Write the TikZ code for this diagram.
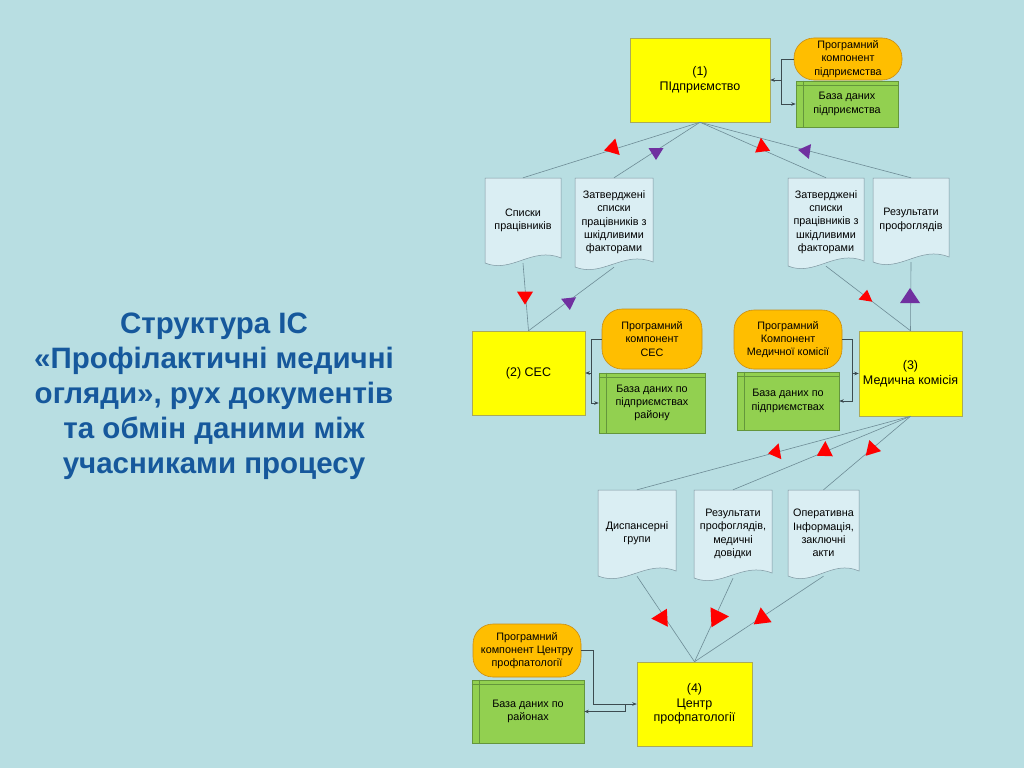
\documentclass[tikz,border=0pt]{standalone}
\usepackage{fontspec}
\setmainfont{Liberation Sans}
\usetikzlibrary{calc,arrows.meta}
\pgfdeclarelayer{background}
\pgfsetlayers{background,main}
\definecolor{bgc}{RGB}{184,222,226}
\definecolor{titlec}{RGB}{22,88,156}
\definecolor{yel}{RGB}{255,255,0}
\definecolor{yelb}{RGB}{170,170,90}
\definecolor{org}{RGB}{255,190,0}
\definecolor{orgb}{RGB}{200,140,20}
\definecolor{grn}{RGB}{146,208,80}
\definecolor{grnb}{RGB}{100,150,60}
\definecolor{docc}{RGB}{218,238,243}
\definecolor{docb}{RGB}{125,150,160}
\definecolor{linec}{RGB}{110,140,150}
\definecolor{darkc}{RGB}{60,75,80}
\definecolor{purp}{RGB}{112,48,160}
\definecolor{redc}{RGB}{255,0,0}
\tikzset{
  box/.style={draw=yelb, fill=yel, line width=0.5pt, inner sep=0pt, align=center,
    font=\fontsize{12.5}{14.7}\selectfont},
  prog/.style={draw=orgb, fill=org, rounded corners=20pt, line width=0.6pt, inner sep=0pt,
    align=center, font=\fontsize{10.8}{13.2}\selectfont},
  db/.style={draw=grnb, fill=grn, line width=0.6pt, inner sep=0pt, align=center,
    font=\fontsize{10.8}{13.2}\selectfont},
  docnode/.style={inner sep=0pt, align=center, font=\fontsize{10.8}{13.3}\selectfont},
  docfill/.style={fill=docc, draw=docb, line width=0.5pt},
  flow/.style={draw=linec, line width=0.6pt},
  conn/.style={draw=darkc, line width=0.5pt, -{Stealth[length=4.5pt,width=3.5pt]}},
  title/.style={align=center, text=titlec, font=\fontsize{29.5}{35}\selectfont\bfseries},
}
\newcommand\docbox[6]{%
  \node[docnode, minimum width={#4-#2}, minimum height={#5-#3}] (#1) at ({(#2+#4)/2},{(#3+#5)/2}) {#6};
  \begin{pgfonlayer}{background}
    \filldraw[docfill] (#2,#3) -- (#4,#3) -- (#4,{#5-5})
      .. controls ({#2+0.62*(#4-#2)},{#5-17}) and ({#2+0.35*(#4-#2)},{#5+11}) .. (#2,#5) -- cycle;
  \end{pgfonlayer}}
\newcommand\dblines[1]{%
  \draw[grnb, line width=0.5pt] ([xshift=8pt]#1.north west) -- ([xshift=8pt]#1.south west);
  \draw[grnb, line width=0.5pt] ([yshift=-5pt]#1.north west) -- ([yshift=-5pt]#1.north east);}
\newcommand\flowtri[6]{%
  \fill[#4] ($(#1,#2)+(#3:{2*#6/3})$) -- ($(#1,#2)+({#3+180}:{#6/3})+({#3+90}:{#5/2})$)
    -- ($(#1,#2)+({#3+180}:{#6/3})+({#3-90}:{#5/2})$) -- cycle;}
\begin{document}
\begin{tikzpicture}[x=1pt,y=-1pt]
\useasboundingbox (0,0) rectangle (1024,768);
\begin{pgfonlayer}{background}
  \fill[bgc] (0,0) rectangle (1024,768);
\end{pgfonlayer}

% title
\node[title] (T) at (214,396) {Структура ІС\\«Профілактичні медичні\\огляди», рух документів\\та обмін даними між\\учасниками процесу};

% main boxes
\node[box, minimum width=140pt, minimum height=84pt] (B1) at (700,80) {(1)\\ПІдприємство};
\node[box, minimum width=113pt, minimum height=84pt] (B2) at (528.5,373) {(2) СЕС};
\node[box, minimum width=103pt, minimum height=85pt] (B3) at (910.5,373.5) {(3)\\Медична комісія};
\node[box, minimum width=115pt, minimum height=84pt] (B4) at (694.5,704) {(4)\\Центр\\профпатології};

% program components
\node[prog, minimum width=108pt, minimum height=42pt] (P1) at (848,59) {Програмний\\компонент\\підприємства};
\node[prog, minimum width=100pt, minimum height=60pt] (P2) at (652,339) {Програмний\\компонент\\СЕС};
\node[prog, minimum width=108pt, minimum height=59pt] (P3) at (788,339.5) {Програмний\\Компонент\\Медичної комісії};
\node[prog, minimum width=108pt, minimum height=53pt] (P4) at (527,650.5) {Програмний\\компонент Центру\\профпатології};

% databases
\node[db, minimum width=102pt, minimum height=46pt] (DB1) at (847,104) {База даних\\підприємства};
\node[db, minimum width=106pt, minimum height=60pt] (DB2) at (652,403) {База даних по\\підприємствах\\району};
\node[db, minimum width=102pt, minimum height=58pt] (DB3) at (788,401) {База даних по\\підприємствах};
\node[db, minimum width=112pt, minimum height=63pt] (DB4) at (528,711.5) {База даних по\\районах};
\dblines{DB1}\dblines{DB2}\dblines{DB3}\dblines{DB4}

% documents
\docbox{D1}{485}{178}{561}{263}{Списки\\працівників}
\docbox{D2}{575}{178}{653}{267}{Затверджені\\списки\\працівників з\\шкідливими\\факторами}
\docbox{D3}{788}{178}{864}{266}{Затверджені\\списки\\працівників з\\шкідливими\\факторами}
\docbox{D4}{873}{178}{949}{262}{Результати\\профоглядів}
\docbox{D5}{598}{490}{676}{576}{Диспансерні\\групи}
\docbox{D6}{694}{490}{772}{578}{Результати\\профоглядів,\\медичні\\довідки}
\docbox{D7}{788}{490}{859}{576}{Оперативна\\Інформація,\\заключні\\акти}

% flow lines
\draw[flow] (B1.south) -- (D1.north);
\draw[flow] (B1.south) -- (D2.north);
\draw[flow] (B1.south) -- (D3.north);
\draw[flow] (B1.south) -- (D4.north);
\draw[flow] (D1.south) -- (B2.north);
\draw[flow] (D2.south) -- (B2.north);
\draw[flow] (D3.south) -- (B3.north);
\draw[flow] (D4.south) -- (B3.north);
\draw[flow] (B3.south) -- (D5.north);
\draw[flow] (B3.south) -- (D6.north);
\draw[flow] (B3.south) -- (D7.north);
\draw[flow] (D5.south) -- (B4.north);
\draw[flow] (D6.south) -- (B4.north);
\draw[flow] (D7.south) -- (B4.north);

% program / database connectors
\draw[conn] (P1.west) -- ++(-12,0) |- (B1.east);
\draw[conn] ($(P1.west)+(-12,0)$) |- (DB1.west);
\draw[conn] (P2.west) -- ++(-10,0) |- (B2.east);
\draw[conn] ($(P2.west)+(-10,0)$) |- (DB2.west);
\draw[conn] (P3.east) -- ++(10,0) |- (B3.west);
\draw[conn] ($(P3.east)+(10,0)$) |- (DB3.east);
\draw[conn] (P4.east) -- ++(12,0) |- (B4.west);
\draw[conn] ($(B4.west)+(-12,0)$) |- (DB4.east);

% direction marks
\flowtri{613}{148}{165}{redc}{17}{14}
\flowtri{656}{152}{90}{purp}{15}{12}
\flowtri{525}{296}{90}{redc}{16}{13}
\flowtri{569}{302}{84}{purp}{15}{12}
\flowtri{762}{147}{263}{redc}{15}{14}
\flowtri{806}{151}{188}{purp}{15}{12}
\flowtri{866}{297}{279}{redc}{14}{11}
\flowtri{910}{298}{270}{purp}{20}{15}
\flowtri{776}{452}{170}{redc}{16}{12}
\flowtri{825}{451}{272}{redc}{16}{15}
\flowtri{872}{449}{253}{redc}{16}{14}
\flowtri{662}{618}{177}{redc}{18}{16}
\flowtri{717}{617}{357}{redc}{20}{18}
\flowtri{762}{618}{263}{redc}{18}{16}
\end{tikzpicture}
\end{document}
